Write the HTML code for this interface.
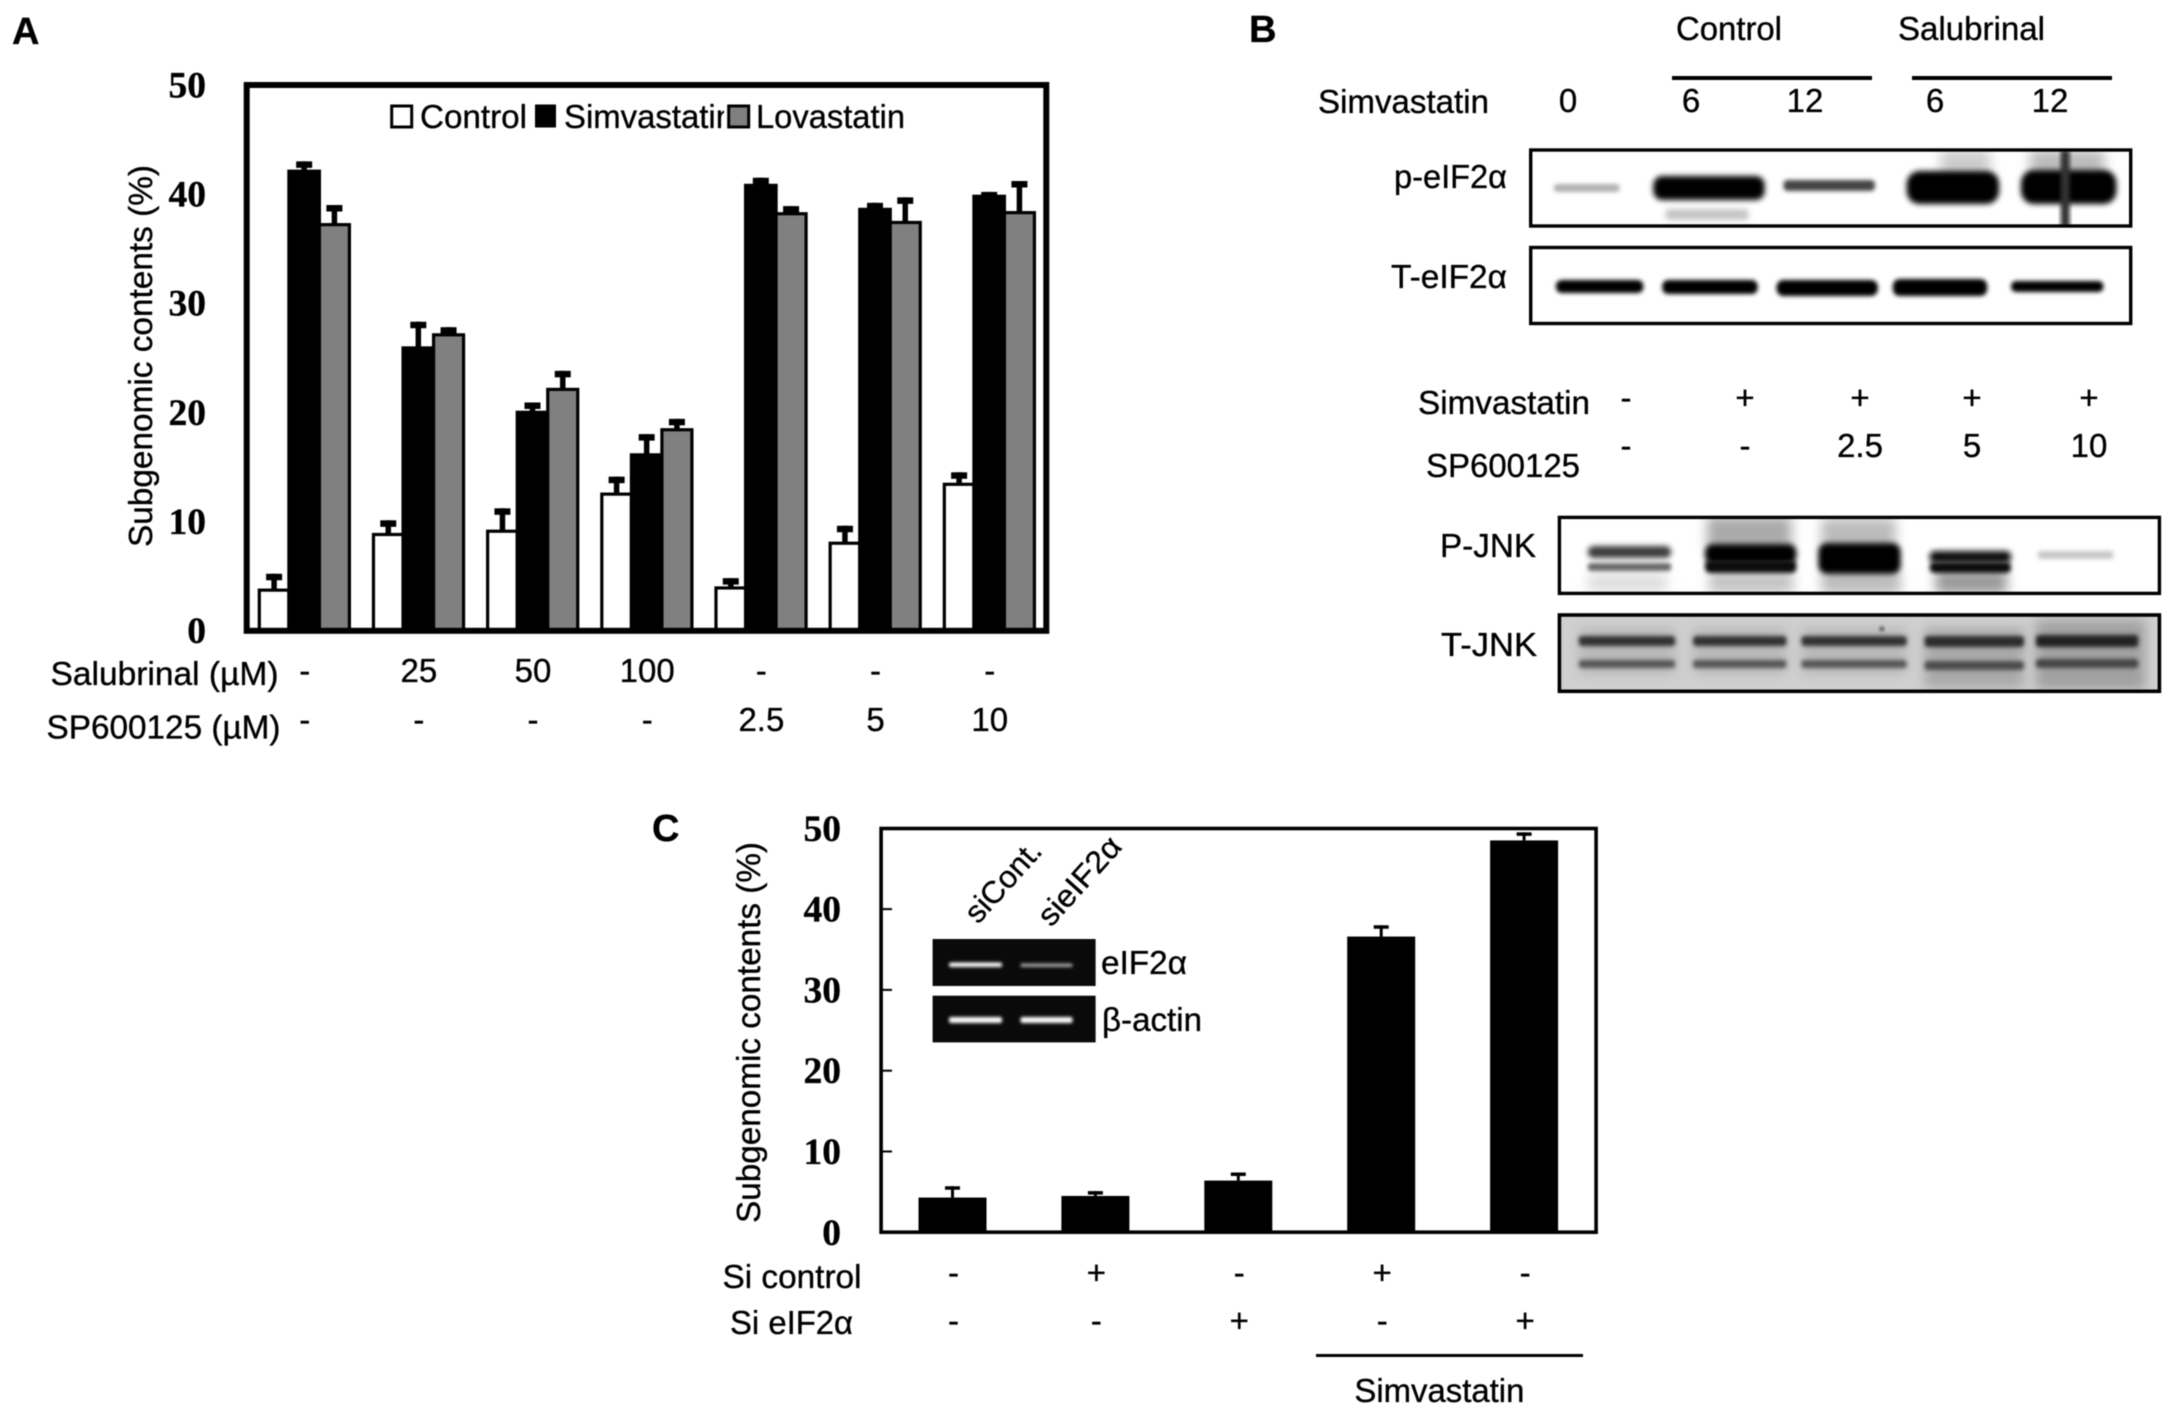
<!DOCTYPE html>
<html lang="en">
<head>
<meta charset="utf-8">
<title>Simvastatin subgenomic contents figure</title>
<style>
html,body{margin:0;padding:0;background:#fff;width:2174px;height:1415px;overflow:hidden}
svg{display:block;filter:blur(.45px)}
text{fill:#000;stroke:#000;stroke-width:.35px;font-family:"Liberation Sans",Arial,sans-serif;font-size:33px}
.tick{font-family:"Liberation Serif",serif;font-weight:700;font-size:37.5px}
.panel{font-weight:700;font-size:38px}
</style>
</head>
<body>
<svg id="fig" xmlns="http://www.w3.org/2000/svg" width="2174" height="1415" viewBox="0 0 2174 1415">
<defs>
<filter id="b1" x="-30%" y="-100%" width="160%" height="300%"><feGaussianBlur stdDeviation="1.5"/></filter>
<filter id="b15" x="-30%" y="-100%" width="160%" height="300%"><feGaussianBlur stdDeviation="2.1"/></filter>
<filter id="b2" x="-30%" y="-100%" width="160%" height="300%"><feGaussianBlur stdDeviation="3"/></filter>
<filter id="b3" x="-40%" y="-100%" width="180%" height="300%"><feGaussianBlur stdDeviation="6"/></filter>
<clipPath id="clipP"><rect x="1530" y="150" width="602" height="76"/></clipPath>
<clipPath id="clipT"><rect x="1530" y="248" width="602" height="76"/></clipPath>
<clipPath id="clipPJ"><rect x="1559" y="517" width="601" height="76"/></clipPath>
<clipPath id="clipTJ"><rect x="1559" y="615" width="601" height="76"/></clipPath>
</defs>

<!-- Panel A -->
<text class="panel" x="12" y="44">A</text>
<g id="chartA"></g>
<rect x="246.7" y="85" width="799.6" height="545.8" fill="none" stroke="#000" stroke-width="6"/>
<g>
  <text x="420" y="128" textLength="107" lengthAdjust="spacingAndGlyphs">Control</text>
  <rect x="391.7" y="106" width="20" height="21" fill="#fff" stroke="#000" stroke-width="3"/>
  <text x="564" y="128" textLength="170" lengthAdjust="spacingAndGlyphs">Simvastatin</text>
  <rect x="535" y="104.5" width="21" height="23" fill="#000"/>
  <rect x="724" y="99" width="5" height="36" fill="#fff"/>
  <rect x="728.7" y="106" width="20" height="21" fill="#808080" stroke="#000" stroke-width="3"/>
  <text x="756" y="128" textLength="149" lengthAdjust="spacingAndGlyphs">Lovastatin</text>
</g>
<text transform="translate(152,547) rotate(-90)" textLength="382" lengthAdjust="spacingAndGlyphs">Subgenomic contents (%)</text>
<text x="50.5" y="685" textLength="228" lengthAdjust="spacingAndGlyphs">Salubrinal (µM)</text>
<text x="46.5" y="738.5" textLength="234" lengthAdjust="spacingAndGlyphs">SP600125 (µM)</text>

<!-- Panel B -->
<text class="panel" x="1249" y="42">B</text>
<text x="1676" y="40" textLength="106" lengthAdjust="spacingAndGlyphs">Control</text>
<text x="1898" y="40" textLength="147" lengthAdjust="spacingAndGlyphs">Salubrinal</text>
<rect x="1672" y="76" width="200" height="4" fill="#000"/>
<rect x="1912" y="76" width="200" height="4" fill="#000"/>
<text x="1318" y="113" textLength="171" lengthAdjust="spacingAndGlyphs">Simvastatin</text>
<g text-anchor="middle">
  <text x="1568" y="112">0</text>
  <text x="1691" y="112">6</text>
  <text x="1805" y="112">12</text>
  <text x="1935" y="112">6</text>
  <text x="2050" y="112">12</text>
</g>
<text x="1394" y="188" textLength="113" lengthAdjust="spacingAndGlyphs">p-eIF2α</text>
<text x="1391" y="288" textLength="116" lengthAdjust="spacingAndGlyphs">T-eIF2α</text>

<g>
  <g clip-path="url(#clipP)"><g transform="translate(1230,0) scale(.9937,1) translate(-1230,0)">
    <rect x="1556" y="184" width="66" height="8" rx="3" fill="#b0b0b0" filter="url(#b15)"/>
    <rect x="1668" y="209" width="84" height="11" rx="4" fill="#c4c4c4" filter="url(#b2)"/>
    <rect x="1656" y="176" width="112" height="24" rx="9" fill="#000" filter="url(#b2)"/>
    <rect x="1787" y="180" width="92" height="11" rx="4" fill="#444" filter="url(#b15)"/>
    <rect x="1945" y="150" width="50" height="26" fill="#ccc" filter="url(#b3)"/>
    <rect x="1911" y="171" width="93" height="33" rx="13" fill="#000" filter="url(#b2)"/>
    <rect x="2035" y="150" width="75" height="26" fill="#bbb" filter="url(#b3)"/>
    <rect x="2026" y="170" width="96" height="34" rx="13" fill="#000" filter="url(#b2)"/>
    <rect x="2066" y="150" width="9" height="78" fill="#333" filter="url(#b15)"/>
  </g></g>
  <rect x="1530.7" y="150" width="600" height="76" fill="none" stroke="#000" stroke-width="3.4"/>
</g>
<g>
  <g clip-path="url(#clipT)"><g transform="translate(1230,0) scale(.9937,1) translate(-1230,0)">
    <rect x="1558" y="280" width="88" height="13" rx="6" fill="#000" filter="url(#b15)"/>
    <rect x="1665" y="280" width="96" height="14" rx="6" fill="#000" filter="url(#b15)"/>
    <rect x="1780" y="280" width="102" height="16" rx="7" fill="#000" filter="url(#b15)"/>
    <rect x="1897" y="279" width="95" height="17" rx="7" fill="#000" filter="url(#b15)"/>
    <rect x="2016" y="281" width="93" height="11" rx="5" fill="#000" filter="url(#b15)"/>
  </g></g>
  <rect x="1530.7" y="247.5" width="600" height="76" fill="none" stroke="#000" stroke-width="3.4"/>
</g>

<text x="1418" y="414" textLength="172" lengthAdjust="spacingAndGlyphs">Simvastatin</text>
<text x="1426" y="477" textLength="154" lengthAdjust="spacingAndGlyphs">SP600125</text>
<g text-anchor="middle">
  <text x="1626" y="409">-</text>
  <text x="1745" y="409">+</text>
  <text x="1860" y="409">+</text>
  <text x="1972" y="409">+</text>
  <text x="2089" y="409">+</text>
  <text x="1626" y="457">-</text>
  <text x="1745" y="457">-</text>
  <text x="1860" y="457">2.5</text>
  <text x="1972" y="457">5</text>
  <text x="2089" y="457">10</text>
</g>
<text x="1440" y="557" textLength="96" lengthAdjust="spacingAndGlyphs">P-JNK</text>
<text x="1441" y="656" textLength="96" lengthAdjust="spacingAndGlyphs">T-JNK</text>

<g>
  <g clip-path="url(#clipPJ)"><g transform="translate(1230,0) scale(.9937,1) translate(-1230,0)">
    <rect x="1710" y="516" width="85" height="34" fill="#aaa" filter="url(#b3)"/>
    <rect x="1825" y="518" width="75" height="32" fill="#bbb" filter="url(#b3)"/>
    <rect x="1590" y="574" width="80" height="18" fill="#ddd" filter="url(#b3)"/>
    <rect x="1712" y="570" width="85" height="24" fill="#c4c4c4" filter="url(#b3)"/>
    <rect x="1825" y="570" width="80" height="24" fill="#bbb" filter="url(#b3)"/>
    <rect x="1940" y="570" width="72" height="24" fill="#999" filter="url(#b3)"/>
    <rect x="1590" y="546" width="84" height="12" rx="6" fill="#3a3a3a" filter="url(#b2)"/>
    <rect x="1590" y="563" width="84" height="8" rx="3" fill="#666" filter="url(#b15)"/>
    <rect x="1708" y="544" width="92" height="20" rx="8" fill="#000" filter="url(#b2)"/>
    <rect x="1708" y="560" width="92" height="13" rx="5" fill="#111" filter="url(#b15)"/>
    <rect x="1822" y="543" width="83" height="31" rx="9" fill="#000" filter="url(#b2)"/>
    <rect x="1934" y="551" width="82" height="12" rx="5" fill="#0a0a0a" filter="url(#b2)"/>
    <rect x="1934" y="562" width="82" height="11" rx="5" fill="#111" filter="url(#b15)"/>
    <rect x="2043" y="551" width="76" height="8" rx="3" fill="#c8c8c8" filter="url(#b15)"/>
  </g></g>
  <rect x="1559.4" y="517.4" width="600" height="76" fill="none" stroke="#000" stroke-width="3.4"/>
</g>
<g>
  <g clip-path="url(#clipTJ)"><g transform="translate(1230,0) scale(.9937,1) translate(-1230,0)">
    <rect x="1550" y="610" width="620" height="90" fill="#d0d0d0"/>
    <rect x="1581" y="628" width="97" height="46" fill="#b8b8b8" filter="url(#b3)"/>
    <rect x="1696" y="628" width="94" height="46" fill="#b8b8b8" filter="url(#b3)"/>
    <rect x="1805" y="628" width="106" height="46" fill="#b8b8b8" filter="url(#b3)"/>
    <rect x="1929" y="628" width="100" height="60" fill="#a8a8a8" filter="url(#b3)"/>
    <rect x="2041" y="620" width="110" height="70" fill="#a0a0a0" filter="url(#b3)"/>
    <rect x="1581" y="636" width="97" height="10" rx="3" fill="#333" filter="url(#b15)"/>
    <rect x="1696" y="636" width="94" height="10" rx="3" fill="#333" filter="url(#b15)"/>
    <rect x="1805" y="636" width="106" height="10" rx="3" fill="#333" filter="url(#b15)"/>
    <rect x="1929" y="636" width="100" height="11" rx="3" fill="#2c2c2c" filter="url(#b15)"/>
    <rect x="2041" y="635" width="103" height="12" rx="3" fill="#222" filter="url(#b15)"/>
    <rect x="1581" y="660" width="97" height="8" rx="3" fill="#555" filter="url(#b15)"/>
    <rect x="1696" y="660" width="94" height="8" rx="3" fill="#555" filter="url(#b15)"/>
    <rect x="1805" y="660" width="106" height="8" rx="3" fill="#555" filter="url(#b15)"/>
    <rect x="1929" y="661" width="100" height="9" rx="3" fill="#4c4c4c" filter="url(#b15)"/>
    <rect x="2041" y="659" width="103" height="9" rx="3" fill="#444" filter="url(#b15)"/>
    <circle cx="1886" cy="629" r="2.5" fill="#555" filter="url(#b1)"/>
  </g></g>
  <rect x="1559.4" y="615" width="600" height="76.3" fill="none" stroke="#000" stroke-width="3.6"/>
</g>

<!-- Panel C -->
<text class="panel" x="652" y="841">C</text>
<g id="chartC"></g>
<rect x="881.1" y="828.5" width="715" height="403.7" fill="none" stroke="#000" stroke-width="3.6"/>
<text transform="translate(760,1223) rotate(-90)" textLength="381" lengthAdjust="spacingAndGlyphs">Subgenomic contents (%)</text>
<text x="722.5" y="1288" textLength="139" lengthAdjust="spacingAndGlyphs">Si control</text>
<text x="730" y="1334" textLength="123" lengthAdjust="spacingAndGlyphs">Si eIF2α</text>
<rect x="1316" y="1354" width="267" height="3" fill="#000"/>
<text x="1354.4" y="1402" textLength="170" lengthAdjust="spacingAndGlyphs">Simvastatin</text>

<g>
  <rect x="932.6" y="939" width="163" height="47" fill="#0a0a0a"/>
  <rect x="949" y="962.5" width="53" height="4.5" rx="2" fill="#fff" filter="url(#b1)"/>
  <rect x="1020.5" y="963.5" width="52" height="3.5" rx="1.5" fill="#a8a8a8" filter="url(#b1)"/>
</g>
<g>
  <rect x="932.6" y="995.7" width="163" height="46.7" fill="#0a0a0a"/>
  <rect x="949" y="1017" width="53" height="6" rx="2" fill="#fff" filter="url(#b1)"/>
  <rect x="1020.5" y="1017" width="52" height="6" rx="2" fill="#fff" filter="url(#b1)"/>
</g>
<text x="1101" y="974" textLength="86" lengthAdjust="spacingAndGlyphs">eIF2α</text>
<text x="1102" y="1031" textLength="100" lengthAdjust="spacingAndGlyphs">β-actin</text>
<text transform="translate(978,925) rotate(-48)" style="font-size:31px" textLength="98" lengthAdjust="spacingAndGlyphs">siCont.</text>
<text transform="translate(1051,928) rotate(-48)" style="font-size:31px" textLength="108" lengthAdjust="spacingAndGlyphs">sieIF2α</text>

<script>
// Chart A data
const tickLabelsA = ["0", "10", "20", "30", "40", "50"];
const tickValuesA = [0, 10, 20, 30, 40, 50];
const salubrinalLabels = ["-", "25", "50", "100", "-", "-", "-"];
const sp600125Labels = ["-", "-", "-", "-", "2.5", "5", "10"];
const controlValues = [3.7, 8.8, 9.1, 12.5, 3.9, 8.0, 13.4];
const controlErrorTops = [5.2, 10.1, 11.2, 14.1, 4.8, 9.6, 14.5];
const simvastatinValues = [42.1, 25.9, 20.0, 16.1, 40.8, 38.6, 39.8];
const simvastatinErrorTops = [43.0, 28.3, 20.9, 18.0, 41.5, 39.2, 40.2];
const lovastatinValues = [37.2, 27.1, 22.1, 18.4, 38.2, 37.4, 38.3];
const lovastatinErrorTops = [39.0, 27.8, 23.8, 19.4, 38.9, 39.7, 41.2];

// Chart C data
const tickLabelsC = ["0", "10", "20", "30", "40", "50"];
const tickValuesC = [0, 10, 20, 30, 40, 50];
const siControlMarks = ["-", "+", "-", "+", "-"];
const siEif2aMarks = ["-", "-", "+", "-", "+"];
const barValuesC = [4.3, 4.5, 6.4, 36.6, 48.5];
const barErrorTopsC = [5.7, 5.1, 7.4, 38.0, 49.5];

const NS = "http://www.w3.org/2000/svg";

function yA(v) { return 630.5 - v * 10.91; }
function groupA(g) { return 257.7 + g * 114.17; }
function barLeftA(g, s) { return groupA(g) + [1.6, 31.2, 61.7][s]; }
function barRightA(g, s) { return groupA(g) + [31.2, 61.7, 91.7][s]; }
function yC(v) { return 1232.3 - v * 8.08; }
function xC(i) { return 918.5 + i * 142.9; }

function drawBarA(parent, g, s, value, errTop, fill, name) {
  const left = barLeftA(g, s);
  const right = barRightA(g, s);
  const cx = (left + right) / 2;
  const stem = document.createElementNS(NS, "rect");
  
  
  stem.setAttribute("x", cx - 2.75);
  stem.setAttribute("width", 5.5);
  stem.setAttribute("y", yA(errTop));
  stem.setAttribute("height", yA(value) - yA(errTop));
  parent.appendChild(stem);
  const cap = document.createElementNS(NS, "rect");
  
  
  cap.setAttribute("x", cx - 8);
  cap.setAttribute("width", 16);
  cap.setAttribute("y", yA(errTop));
  cap.setAttribute("height", 6.5);
  parent.appendChild(cap);
  const bar = document.createElementNS(NS, "rect");
  
  
  bar.setAttribute("x", left);
  bar.setAttribute("width", right - left);
  bar.setAttribute("y", yA(value));
  bar.setAttribute("height", yA(0) - yA(value));
  bar.setAttribute("fill", fill);
  bar.setAttribute("stroke", "#000");
  bar.setAttribute("stroke-width", 3.2);
  parent.appendChild(bar);
}

function addLabel(parent, content, x, y, anchor, cls) {
  const t = document.createElementNS(NS, "text");
  t.textContent = content;
  t.setAttribute("x", x);
  t.setAttribute("y", y);
  t.setAttribute("text-anchor", anchor);
  if (cls) t.setAttribute("class", cls);
  parent.appendChild(t);
  return t;
}

const chartA = document.getElementById("chartA");
controlValues.forEach(function (v, g) {
  drawBarA(chartA, g, 0, v, controlErrorTops[g], "#fff", "control-bar-" + g);
});
simvastatinValues.forEach(function (v, g) {
  drawBarA(chartA, g, 1, v, simvastatinErrorTops[g], "#000", "simvastatin-bar-" + g);
});
lovastatinValues.forEach(function (v, g) {
  drawBarA(chartA, g, 2, v, lovastatinErrorTops[g], "#808080", "lovastatin-bar-" + g);
});
tickValuesA.forEach(function (v, i) {
  const tick = addLabel(chartA, tickLabelsA[i], 206, yA(v) + 12.5, "end", "tick");
  
  
});
salubrinalLabels.forEach(function (s, g) {
  const rowLabel = addLabel(chartA, s, groupA(g) + 47, 682, "middle");
  
  
});
sp600125Labels.forEach(function (s, g) {
  const rowLabel2 = addLabel(chartA, s, groupA(g) + 47, 731, "middle");
  
  
});

const chartC = document.getElementById("chartC");
const barW = 68;
barValuesC.forEach(function (v, i) {
  const cx = xC(i) + barW / 2;
  const stem = document.createElementNS(NS, "rect");
  
  
  stem.setAttribute("x", cx - 1.5);
  stem.setAttribute("width", 3);
  stem.setAttribute("y", yC(barErrorTopsC[i]));
  stem.setAttribute("height", yC(v) - yC(barErrorTopsC[i]));
  chartC.appendChild(stem);
  const cap = document.createElementNS(NS, "rect");
  
  
  cap.setAttribute("x", cx - 7.5);
  cap.setAttribute("width", 15);
  cap.setAttribute("y", yC(barErrorTopsC[i]));
  cap.setAttribute("height", 3.5);
  chartC.appendChild(cap);
  const bar = document.createElementNS(NS, "rect");
  
  
  bar.setAttribute("x", xC(i));
  bar.setAttribute("width", barW);
  bar.setAttribute("y", yC(v));
  bar.setAttribute("height", yC(0) - yC(v));
  bar.setAttribute("fill", "#000");
  chartC.appendChild(bar);
  const m1 = addLabel(chartC, siControlMarks[i], cx + 1, 1284, "middle");
  
  
  const m2 = addLabel(chartC, siEif2aMarks[i], cx + 1, 1332, "middle");
  
  
});
tickValuesC.forEach(function (v, i) {
  const tl = addLabel(chartC, tickLabelsC[i], 841, yC(v) + 12.5, "end", "tick");
  
  
  const tm = document.createElementNS(NS, "rect");
  
  
  tm.setAttribute("x", 881);
  tm.setAttribute("y", yC(v) - 1);
  tm.setAttribute("width", 11);
  tm.setAttribute("height", 2);
  chartC.appendChild(tm);
});
</script>
</svg>
</body>
</html>
